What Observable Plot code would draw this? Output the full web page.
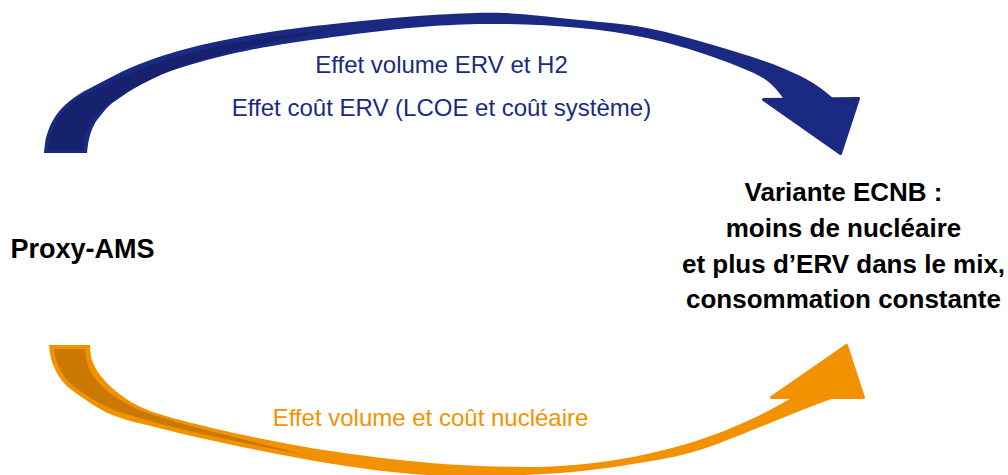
<!DOCTYPE html>
<html><head><meta charset="utf-8">
<script src="https://cdn.jsdelivr.net/npm/d3@7"></script>
<script src="https://cdn.jsdelivr.net/npm/@observablehq/plot@0.6"></script>
<style>body{margin:0;background:#fff} #chart{width:1008px;height:475px}</style>
</head><body><div id="chart"></div>
<script>
// Blue arrow (top): outer and inner edges of the shaft, dark underside near the tail, head triangle
const blueOuter = [[44,153],[46,138],[52,122],[62,108],[78,95],[100,83],[130,68],[165,55],[210,43],[270,32],[333,24],[433,15],[504,13],[580,20],[647,28],[713,45],[780,67],[813,83],[833,98]];
const blueInner = [[87,153],[89,139],[94,125],[101,115],[110,105],[121,97],[135,88],[160,75],[200,62],[250,50],[333,37],[433,26],[504,24],[580,28],[647,38],[713,57],[763,78],[775,88],[783,98]];
const blueDarkOuter = [[48,150],[50,137],[56,122],[66,109],[81,97],[102,87],[131,73],[166,60],[210,48],[270,37],[335,29]];
const blueDarkInner = [[83,150],[85,138],[90,125],[97,115],[106,106],[120,96],[150,80],[185,65],[230,52],[280,40],[335,29]];
const blueHead = [[763,99],[858,98],[840,153]];

// Orange arrow (bottom)
const orangeOuter = [[49,345],[52,362],[63,382],[83,398],[110,414],[167,430],[267,452],[367,469],[450,476],[560,473],[627,465],[693,452],[760,427],[810,407],[837,397]];
const orangeInner = [[90,345],[92,360],[100,375],[117,392],[143,408],[200,425],[300,446],[400,460],[480,466],[560,466],[627,458],[693,442],[743,423],[770,410],[793,397]];
const orangeDarkOuter = [[54,349],[57,362],[67,380],[86,395],[112,409],[165,425],[230,440],[310,456]];
const orangeDarkInner = [[85,349],[87,362],[94,377],[110,393],[135,408],[170,420],[230,436],[310,456]];
const orangeHead = [[771,397],[863,397],[846,345]];

// Texts
const topLabels = ["Effet volume ERV et H2", "Effet coût ERV (LCOE et coût système)"];
const bottomLabels = ["Effet volume et coût nucléaire"];
const sourceLabels = ["Proxy-AMS"];
const targetLabels = ["Variante ECNB :", "moins de nucléaire", "et plus d’ERV dans le mix,", "consommation constante"];

// Layout
const topLabelX = 441, topLabelY = [65, 108];
const bottomLabelX = 430, bottomLabelY = [418];
const sourceX = 10, sourceY = [249];
const targetX = 843, targetY = [192, 228, 264, 299];

const BLUE = "#1a2a82", BLUE_DARK = "#16226e", ORANGE = "#f39200", ORANGE_DARK = "#c97800";

const band = (outer, inner) => outer.map((p, i) => ({x1: p[0], y1: p[1], x2: inner[i][0], y2: inner[i][1]}));
const pts = (a) => a.map(p => ({x: p[0], y: p[1]}));

const plot = Plot.plot({
  width: 1008, height: 475, margin: 0,
  x: {domain: [0, 1008], range: [0, 1008], axis: null},
  y: {domain: [0, 475], range: [0, 475], axis: null},
  style: {fontFamily: "'Liberation Sans', Arial, sans-serif", background: "white", overflow: "hidden"},
  marks: [
    Plot.area(band(blueOuter, blueInner), {x1: "x1", y1: "y1", x2: "x2", y2: "y2", fill: BLUE, curve: "catmull-rom"}),
    Plot.area(band(blueDarkOuter, blueDarkInner), {x1: "x1", y1: "y1", x2: "x2", y2: "y2", fill: BLUE_DARK, curve: "catmull-rom"}),
    Plot.line(pts(blueHead), {x: "x", y: "y", fill: BLUE, stroke: BLUE, strokeWidth: 3, strokeLinejoin: "round", curve: "linear-closed"}),
    Plot.area(band(orangeOuter, orangeInner), {x1: "x1", y1: "y1", x2: "x2", y2: "y2", fill: ORANGE, curve: "catmull-rom"}),
    Plot.area(band(orangeDarkOuter, orangeDarkInner), {x1: "x1", y1: "y1", x2: "x2", y2: "y2", fill: ORANGE_DARK, curve: "catmull-rom"}),
    Plot.line(pts(orangeHead), {x: "x", y: "y", fill: ORANGE, stroke: ORANGE, strokeWidth: 3, strokeLinejoin: "round", curve: "linear-closed"}),
    Plot.text(topLabels, {x: () => topLabelX, y: (d, i) => topLabelY[i], text: d => d, fill: BLUE, fontSize: 24, textAnchor: "middle"}),
    Plot.text(bottomLabels, {x: () => bottomLabelX, y: (d, i) => bottomLabelY[i], text: d => d, fill: ORANGE, fontSize: 24, textAnchor: "middle"}),
    Plot.text(sourceLabels, {x: () => sourceX, y: (d, i) => sourceY[i], text: d => d, fill: "black", fontSize: 27, fontWeight: "bold", textAnchor: "start"}),
    Plot.text(targetLabels, {x: () => targetX, y: (d, i) => targetY[i], text: d => d, fill: "black", fontSize: 26, fontWeight: "bold", textAnchor: "middle"})
  ]
});
document.getElementById("chart").append(plot);
</script>
</body></html>
